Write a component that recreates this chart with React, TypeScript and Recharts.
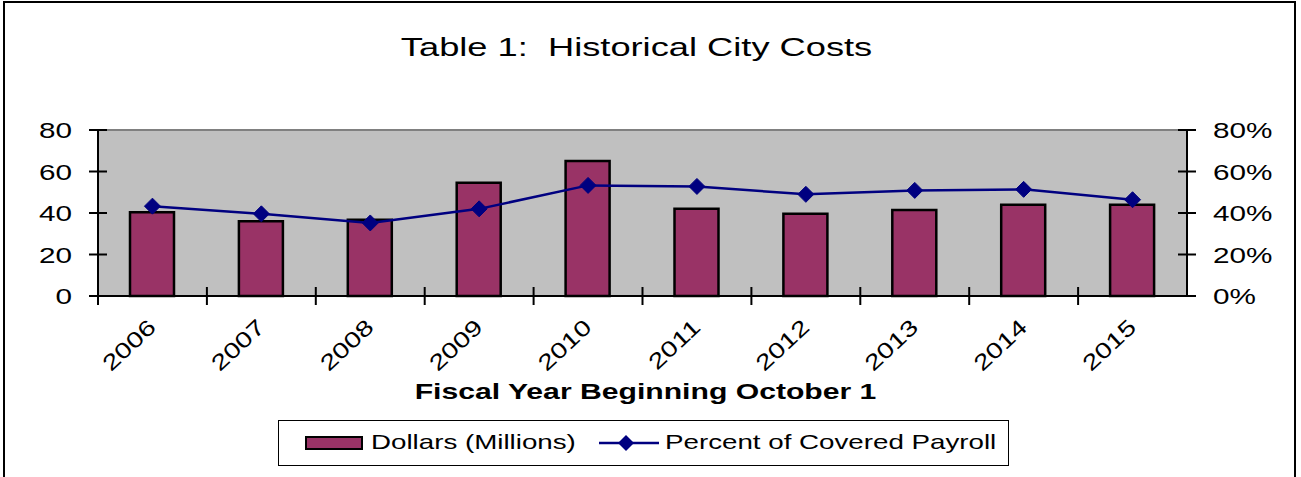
import React from 'react';
import {
  ComposedChart,
  Bar,
  Line,
  XAxis,
  YAxis,
  CartesianGrid,
  ReferenceLine,
} from 'recharts';

const years = ['2006', '2007', '2008', '2009', '2010', '2011', '2012', '2013', '2014', '2015'];
const dollars = [40.4, 36.0, 36.7, 54.6, 65.1, 42.0, 39.6, 41.5, 44.0, 44.0];
const percentPayroll = [43.3, 39.6, 35.2, 42.0, 53.3, 52.8, 49.0, 50.9, 51.4, 46.4];
const leftTicks = [0, 20, 40, 60, 80];
const rightTicks = [0, 20, 40, 60, 80];

const data = years.map((year, i) => ({
  year,
  dollars: dollars[i],
  percent: percentPayroll[i],
}));

const FONT = '"Liberation Sans", Arial, sans-serif';
const BAND = 108.9;
const STRETCH = 1.35;

// year labels, slanted, with the tick marks sitting between categories
const YearTick = (props: any) => {
  const { x, y, payload } = props;
  return (
    <g>
      <line x1={x - BAND / 2} x2={x - BAND / 2} y1={y - 9} y2={y + 9} stroke="#000" strokeWidth={2} />
      <text
        transform={`translate(${x + 5},${y + 33}) rotate(-43) scale(1.3,1)`}
        textAnchor="end"
        fontSize={22}
        fontFamily={FONT}
        fill="#000"
      >
        {payload.value}
      </text>
    </g>
  );
};

const LeftTick = (props: any) => {
  const { x, y, payload } = props;
  return (
    <g>
      <line x1={x - 9} x2={x + 9} y1={y} y2={y} stroke="#000" strokeWidth={2} />
      <text
        transform={`translate(${x - 26},${y + 8}) scale(${STRETCH},1)`}
        textAnchor="end"
        fontSize={22}
        fontFamily={FONT}
        fill="#000"
      >
        {payload.value}
      </text>
    </g>
  );
};

const RightTick = (props: any) => {
  const { x, y, payload } = props;
  return (
    <g>
      <line x1={x - 9} x2={x + 9} y1={y} y2={y} stroke="#000" strokeWidth={2} />
      <text
        transform={`translate(${x + 26},${y + 8}) scale(${STRETCH},1)`}
        textAnchor="start"
        fontSize={22}
        fontFamily={FONT}
        fill="#000"
      >
        {`${payload.value}%`}
      </text>
    </g>
  );
};

const Diamond = (props: any) => {
  const { cx, cy, index } = props;
  if (cx == null || cy == null) return <g key={index} />;
  const rx = 8;
  const ry = 8;
  return (
    <path
      key={index}
      d={`M${cx},${cy - ry} L${cx + rx},${cy} L${cx},${cy + ry} L${cx - rx},${cy} Z`}
      fill="#000080"
      stroke="#000080"
    />
  );
};

const stretched = (scale: number): React.CSSProperties => ({
  display: 'inline-block',
  transform: `scaleX(${scale})`,
  transformOrigin: 'center',
  whiteSpace: 'pre',
});

export default function App() {
  return (
    <div
      style={{
        position: 'fixed',
        top: 0,
        left: 0,
        width: 1301,
        height: 477,
        background: '#fff',
        fontFamily: FONT,
        color: '#000',
        overflow: 'hidden',
      }}
    >
      <div
        style={{
          position: 'absolute',
          left: 3,
          top: 1,
          width: 1293,
          height: 490,
          border: '2px solid #000',
          boxSizing: 'border-box',
        }}
      />
      <div style={{ position: 'absolute', top: 33, left: 0, width: 1274, textAlign: 'center', fontSize: 25 }}>
        <span style={stretched(1.45)}>Table 1:  Historical City Costs</span>
      </div>
      <ComposedChart
        width={1301}
        height={477}
        data={data}
        margin={{ top: 130, right: 0, bottom: 151, left: 0 }}
        style={{ position: 'absolute', top: 0, left: 0 }}
      >
        <CartesianGrid fill="#c0c0c0" horizontal={false} vertical={false} />
        <XAxis
          dataKey="year"
          height={30}
          axisLine={{ stroke: '#000', strokeWidth: 2 }}
          tickLine={false}
          tickSize={0}
          tickMargin={0}
          tick={<YearTick />}
          interval={0}
        />
        <YAxis
          yAxisId="left"
          width={98}
          domain={[0, 80]}
          ticks={leftTicks}
          axisLine={{ stroke: '#000', strokeWidth: 2 }}
          tickLine={false}
          tickSize={0}
          tickMargin={0}
          tick={<LeftTick />}
        />
        <YAxis
          yAxisId="right"
          orientation="right"
          width={114}
          domain={[0, 80]}
          ticks={rightTicks}
          axisLine={{ stroke: '#000', strokeWidth: 2 }}
          tickLine={false}
          tickSize={0}
          tickMargin={0}
          tick={<RightTick />}
        />
        <ReferenceLine yAxisId="left" y={80} stroke="#808080" strokeWidth={2} />
        <Bar
          yAxisId="left"
          dataKey="dollars"
          name="Dollars (Millions)"
          fill="#993366"
          stroke="#000"
          strokeWidth={2.5}
          barSize={44}
          isAnimationActive={false}
        />
        <Line
          yAxisId="right"
          dataKey="percent"
          name="Percent of Covered Payroll"
          stroke="#000080"
          strokeWidth={2.5}
          dot={<Diamond />}
          activeDot={false}
          isAnimationActive={false}
        />
      </ComposedChart>
      <div
        style={{
          position: 'absolute',
          top: 379,
          left: 0,
          width: 1292,
          textAlign: 'center',
          fontSize: 22,
          fontWeight: 'bold',
        }}
      >
        <span style={stretched(1.37)}>Fiscal Year Beginning October 1</span>
      </div>
      <div
        style={{
          position: 'absolute',
          left: 278,
          top: 420,
          width: 731,
          height: 46,
          border: '1.5px solid #000',
          boxSizing: 'border-box',
          background: '#fff',
          fontSize: 21,
        }}
      >
        <div
          style={{
            position: 'absolute',
            left: 26,
            top: 15,
            width: 58,
            height: 14,
            background: '#993366',
            border: '2.5px solid #000',
            boxSizing: 'border-box',
          }}
        />
        <span style={{ ...stretched(1.32), position: 'absolute', left: 92, top: 9, transformOrigin: 'left' }}>
          Dollars (Millions)
        </span>
        <svg width={60} height={18} style={{ position: 'absolute', left: 320, top: 13 }}>
          <line x1={0} x2={60} y1={9} y2={9} stroke="#000080" strokeWidth={2.5} />
          <path d="M27,1 L35,9 L27,17 L19,9 Z" fill="#000080" />
        </svg>
        <span style={{ ...stretched(1.32), position: 'absolute', left: 386, top: 9, transformOrigin: 'left' }}>
          Percent of Covered Payroll
        </span>
      </div>
    </div>
  );
}
